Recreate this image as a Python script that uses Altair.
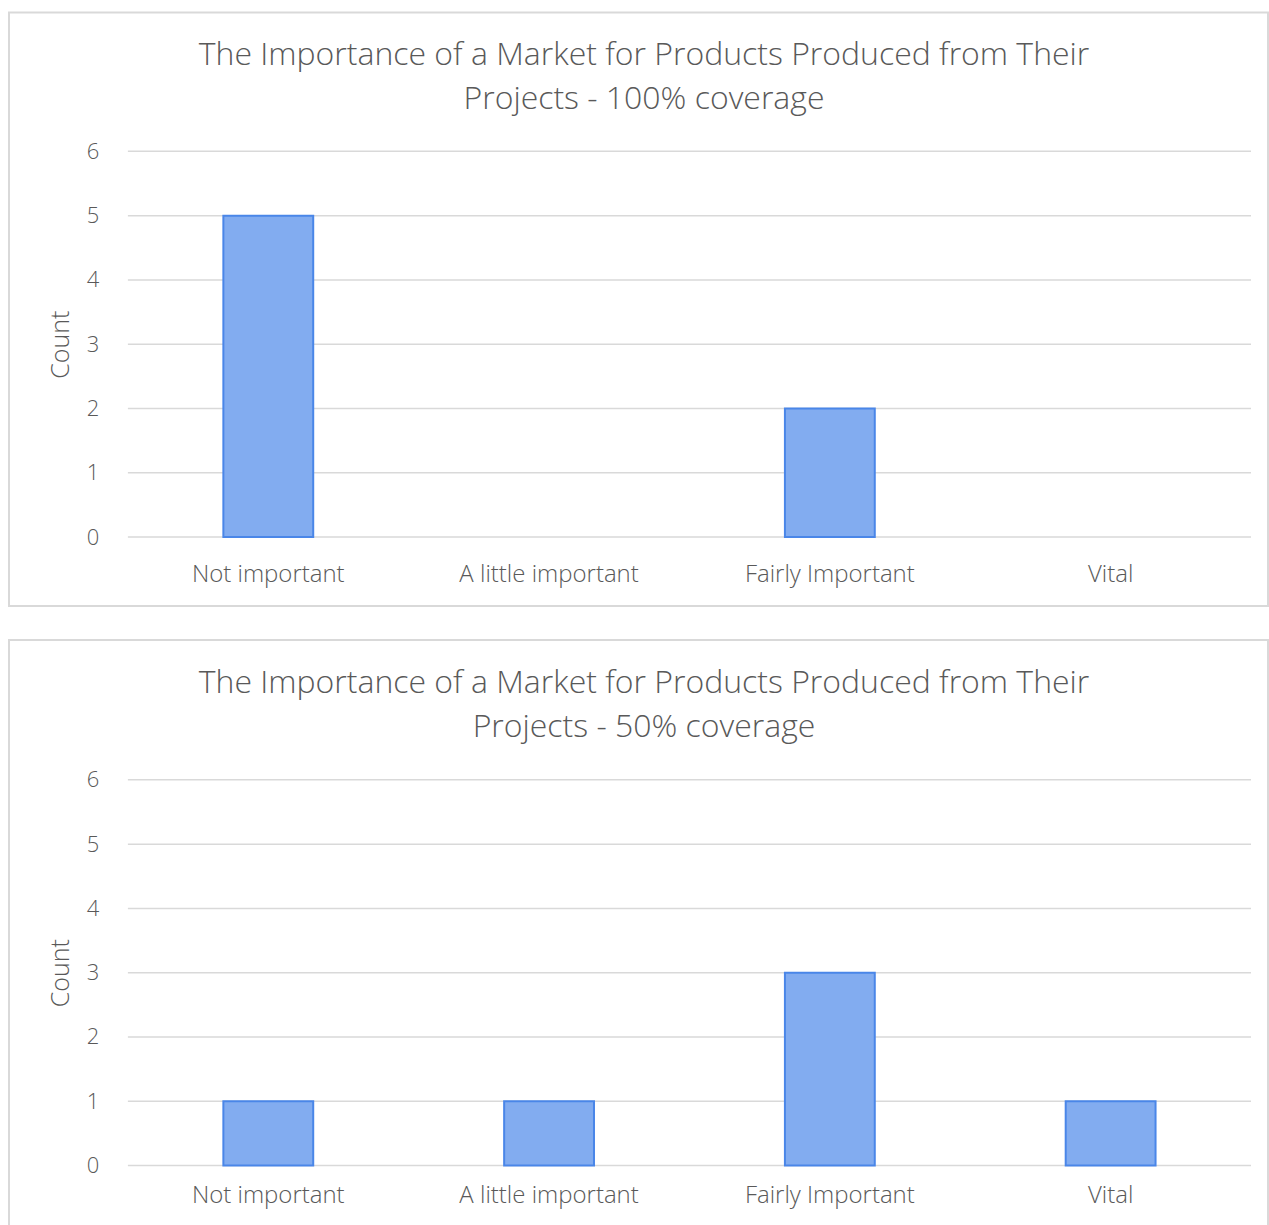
import altair as alt
import pandas as pd

CATEGORIES = ["Not important", "A little important", "Fairly Important", "Vital"]
COUNTS_100 = [5, 0, 2, 0]
COUNTS_50 = [1, 1, 3, 1]
TITLE_100 = ["The Importance of a Market for Products Produced from Their", "Projects - 100% coverage"]
TITLE_50 = ["The Importance of a Market for Products Produced from Their", "Projects - 50% coverage"]
Y_TICKS = [0, 1, 2, 3, 4, 5, 6]

FONT = "Open Sans"
TXT = "#595959"
GRID = "#d9d9d9"
BLUE = "#4a86e8"
FILL = "#82acf0"

W = 1260


def panel(counts, title_lines, h, y0, y6):
    df = pd.DataFrame({"cat": CATEGORIES, "count": counts})
    grid_df = pd.DataFrame({"v": Y_TICKS})
    yscale = alt.Scale(domain=[0, 6], range=[y0, y6], nice=False, zero=True)
    xscale = alt.Scale(domain=CATEGORIES, range=[119, 1243], paddingInner=0.68, paddingOuter=0.34)
    yaxis = alt.Axis(title="Count", values=Y_TICKS, domain=False, ticks=False,
                     grid=False, labelFont=FONT, labelFontSize=22,
                     labelFontWeight=300, labelColor=TXT, labelPadding=10,
                     offset=-100, titleFont=FONT, titleFontSize=25,
                     titleFontWeight=300, titleColor=TXT, titlePadding=13)

    grid = alt.Chart(grid_df).mark_rule(color=GRID, strokeWidth=1.5).encode(
        y=alt.Y("v:Q", scale=yscale, axis=yaxis),
        x=alt.value(119),
        x2=alt.value(1243),
    )

    bars = alt.Chart(df).transform_filter("datum.count > 0").mark_bar(
        fill=FILL, stroke=BLUE, strokeWidth=2
    ).encode(
        x=alt.X("cat:N", scale=xscale, sort=CATEGORIES,
                axis=alt.Axis(title=None, domain=False, ticks=False, labelAngle=0,
                              labelFont=FONT, labelFontSize=24, labelFontWeight=300,
                              labelColor=TXT, labelPadding=0, offset=-44, grid=False,
                              labelBaseline="top")),
        y=alt.Y("count:Q", scale=yscale, axis=yaxis),
    )

    title = alt.Chart(pd.DataFrame({"k": [0]})).mark_text(
        font=FONT, fontSize=32, fontWeight=300, color=TXT, align="center",
        baseline="middle", lineHeight=44,
    ).encode(
        x=alt.value(635.5),
        y=alt.value(43),
        text=alt.value(title_lines),
    )

    return alt.layer(grid, bars, title).properties(width=W, height=h)


top = panel(COUNTS_100, TITLE_100, 594, 525, 139)
bottom = panel(COUNTS_50, TITLE_50, 588, 526, 140)

chart = alt.vconcat(top, bottom, spacing=32).properties(
    padding={"left": 8, "top": 11, "right": 0, "bottom": 0},
    background="white",
).configure_view(
    stroke=GRID, strokeWidth=2
)

chart.save("out.html", embed_options={"renderer": "svg", "actions": False})
